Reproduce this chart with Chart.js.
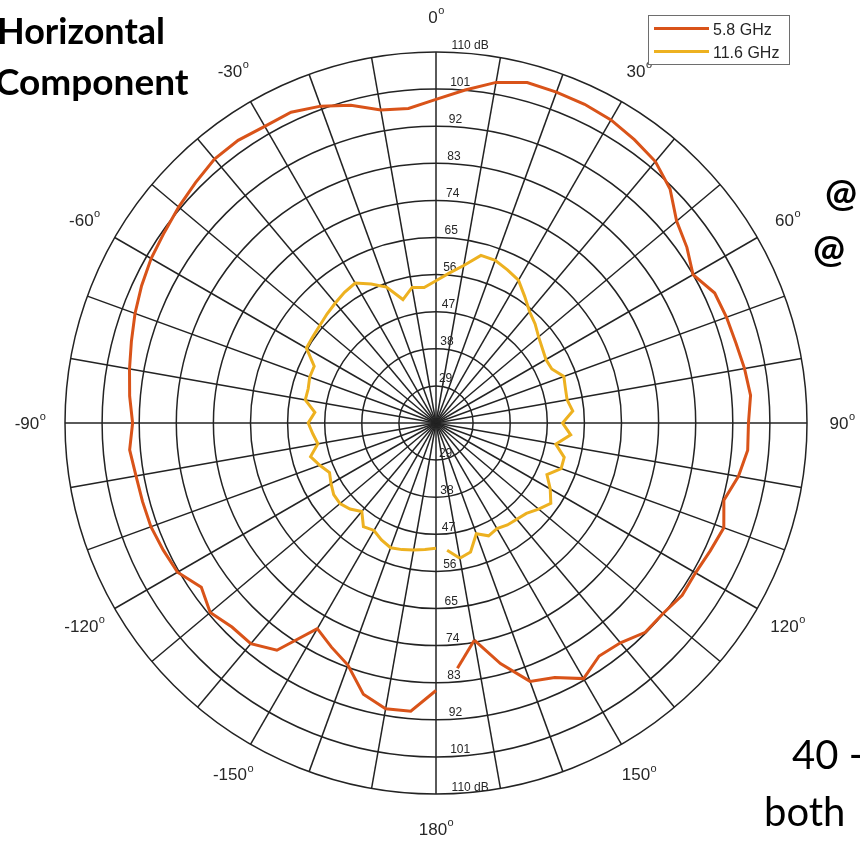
<!DOCTYPE html>
<html>
<head>
<meta charset="utf-8">
<script src="https://cdn.jsdelivr.net/npm/chart.js@4.4.1/dist/chart.umd.min.js"></script>
<style>
  html, body { margin: 0; padding: 0; background: #fff; overflow: hidden; }
  #wrap { position: relative; width: 860px; height: 843px; overflow: hidden; }
  .slide { position: absolute; color: #000; white-space: nowrap; line-height: 1; font-family: Lato, "Open Sans", sans-serif; }
  .bold { font-weight: bold; }
</style>
</head>
<body>
<div id="wrap">
  <canvas id="polarChart"></canvas>
  <div class="slide bold" style="left:-3px; top:12px; font-size:36px;">Horizontal</div>
  <div class="slide bold" style="left:-5px; top:62px; font-size:37px;">Component</div>
  <div class="slide bold" style="left:825px; top:172px; font-size:38px;">@</div>
  <div class="slide bold" style="left:813px; top:228px; font-size:38px;">@</div>
  <div class="slide" style="left:792px; top:734px; font-size:40px;">40 -</div>
  <div class="slide" style="left:764px; top:791px; font-size:40px;">both</div>
</div>
<script>
// angulos (graus), 0 em cima, sentido horario
var angles = [0, 5, 10, 15, 20, 25, 30, 35, 40, 45, 50, 55, 60, 65, 70, 75, 80, 85,
    90, 95, 100, 105, 110, 115, 120, 125, 130, 135, 140, 145, 150, 155, 160, 165, 170, 175,
    180, 185, 190, 195, 200, 205, 210, 215, 220, 225, 230, 235, 240, 245, 250, 255, 260, 265,
    270, 275, 280, 285, 290, 295, 300, 305, 310, 315, 320, 325, 330, 335, 340, 345, 350, 355];

// 5.8 GHz (dB)
var ghz58 = [98.5, 101.1, 103.9, 105.5, 105.4, 105.3, 104.9, 103.9, 102.8, 100.3,
    96.2, 94.3, 92.0, 94.6, 95.0, 95.3, 96.0, 96.6, 95.8, 95.9,
    94.5, 92.3, 94.3, 93.4, 92.7, 92.9, 91.9, 91.8, 89.6, 89.0,
    91.6, 88.1, 86.7, 80.4, 73.5, 79.7, 84.9, 90.2, 90.4, 88.1,
    82.5, 80.0, 77.6, 87.3, 89.9, 90.0, 91.5, 89.5, 92.4, 93.0,
    93.6, 93.7, 93.9, 94.6, 93.6, 94.6, 95.5, 96.5, 97.7, 98.8,
    99.8, 100.5, 101.5, 102.5, 103.6, 103.7, 103.1, 103.2, 101.8, 99.8,
    97.1, 96.6];

// 11.6 GHz (dB)
var ghz116 = [54.5, 56.5, 58.8, 62.1, 62.0, 61.0, 60.0, 57.5, 55.3, 54.0,
    52.5, 51.5, 50.8, 51.0, 53.0, 52.5, 52.3, 53.3, 50.7, 52.8,
    49.5, 52.2, 52.3, 49.7, 52.0, 54.0, 52.5, 51.0, 50.5, 50.2,
    49.6, 50.2, 48.6, 52.4, 53.3, 51.0, 50.4, 50.8, 51.3, 51.8,
    52.2, 51.3, 50.1, 50.7, 48.0, 49.5, 50.4, 50.3, 49.4, 48.5,
    50.0, 51.5, 49.1, 50.0, 51.0, 49.5, 52.2, 52.1, 52.6, 52.6,
    56.3, 56.5, 56.8, 57.4, 58.0, 58.7, 59.2, 57.2, 55.1, 51.0,
    53.4, 53.0];

// rotulos do eixo radial
var rTickValues = [29, 38, 47, 56, 65, 74, 83, 92, 101, 110];
var rTickLabels = ['29', '38', '47', '56', '65', '74', '83', '92', '101', '110 dB'];

// rotulos dos angulos
var thetaTickAngles = [0, 30, 60, 90, 120, 150, 180, 210, 240, 270, 300, 330];
var thetaTickLabels = ['0', '30', '60', '90', '120', '150', '180', '-150', '-120', '-90', '-60', '-30'];

var seriesNames = ['5.8 GHz', '11.6 GHz'];
var seriesColors = ['#D95319', '#EDB120'];

// o tracado nao fecha entre 175 e 180 graus:
// o ponto de 175 sai do laco principal e o trecho 170-175 vai num dataset a parte
var gapAfter = angles.indexOf(175);

function mainPart(values) {
    return values.map(function (v, i) { return i === gapAfter ? null : v; });
}
function tailPart(values) {
    return values.map(function (v, i) { return (i === gapAfter || i === gapAfter - 1) ? v : null; });
}

function lineSet(label, values, color) {
    return {
        label: label,
        data: values,
        borderColor: color,
        backgroundColor: color,
        borderWidth: 3,
        pointRadius: 0,
        fill: false,
        spanGaps: false
    };
}

var gridColor = '#232323';
var textColor = '#262626';

var polarText = {
    id: 'polarText',
    beforeDatasetsDraw: function (chart) {
        var s = chart.scales.r;
        var ctx = chart.ctx;
        ctx.save();
        ctx.fillStyle = textColor;
        ctx.font = '12px "Liberation Sans", Arial, sans-serif';
        ctx.textAlign = 'left';
        ctx.textBaseline = 'alphabetic';
        rTickValues.forEach(function (v, i) {
            var d = s.getDistanceFromCenterForValue(v);
            var x = s.xCenter + 1.5 + 0.038 * d;
            ctx.fillText(rTickLabels[i], x, s.yCenter - d - 3.5);
            ctx.fillText(rTickLabels[i], x, s.yCenter + d - 3.5);
        });
        ctx.restore();
    },
    afterDraw: function (chart) {
        var s = chart.scales.r;
        var ctx = chart.ctx;
        ctx.save();
        ctx.fillStyle = textColor;
        ctx.textBaseline = 'middle';
        ctx.textAlign = 'left';
        thetaTickAngles.forEach(function (a, i) {
            var p = s.getPointPosition(angles.indexOf(a), s.drawingArea + 35);
            ctx.font = '17px "Liberation Sans", Arial, sans-serif';
            var wMain = ctx.measureText(thetaTickLabels[i]).width;
            ctx.font = '11px "Liberation Sans", Arial, sans-serif';
            var wSup = ctx.measureText('o').width;
            var x0 = p.x - (wMain + wSup) / 2;
            ctx.font = '17px "Liberation Sans", Arial, sans-serif';
            ctx.fillText(thetaTickLabels[i], x0, p.y + 1);
            ctx.font = '11px "Liberation Sans", Arial, sans-serif';
            ctx.fillText('o', x0 + wMain + 0.5, p.y - 6);
        });

        // legenda
        var lx = 648, ly = 15, lw = 141, lh = 49;
        ctx.fillStyle = '#fff';
        ctx.fillRect(lx, ly, lw, lh);
        ctx.strokeStyle = '#6e6e6e';
        ctx.lineWidth = 1;
        ctx.strokeRect(lx + 0.5, ly + 0.5, lw, lh);
        ctx.font = '16px "Liberation Sans", Arial, sans-serif';
        ctx.textBaseline = 'alphabetic';
        var rows = [28.5, 51.5];
        seriesNames.forEach(function (name, i) {
            ctx.strokeStyle = seriesColors[i];
            ctx.lineWidth = 3;
            ctx.beginPath();
            ctx.moveTo(654, rows[i]);
            ctx.lineTo(709, rows[i]);
            ctx.stroke();
            ctx.fillStyle = textColor;
            ctx.fillText(name, 713, rows[i] + 6.5);
        });
        ctx.restore();
    }
};

var ctx = document.getElementById('polarChart').getContext('2d');

var polarChart = new Chart(ctx, {
    type: 'radar',
    data: {
        labels: angles.map(String),
        datasets: [
            lineSet(seriesNames[0], mainPart(ghz58), seriesColors[0]),
            lineSet(seriesNames[0], tailPart(ghz58), seriesColors[0]),
            lineSet(seriesNames[1], mainPart(ghz116), seriesColors[1]),
            lineSet(seriesNames[1], tailPart(ghz116), seriesColors[1])
        ]
    },
    options: {
        responsive: true,
        maintainAspectRatio: false,
        animation: false,
        layout: { padding: { left: 65, right: 53, top: 52, bottom: 49 } },
        plugins: {
            legend: { display: false },
            tooltip: { enabled: false }
        },
        scales: {
            r: {
                min: 20,
                max: 110,
                startAngle: 0,
                ticks: { display: false, stepSize: 9 },
                grid: { circular: true, color: gridColor, lineWidth: 1.5 },
                angleLines: {
                    color: gridColor,
                    lineWidth: function (c) { return c.index % 2 === 0 ? 1.5 : 0; }
                },
                pointLabels: { display: false }
            }
        }
    },
    plugins: [polarText]
});
</script>
</body>
</html>
